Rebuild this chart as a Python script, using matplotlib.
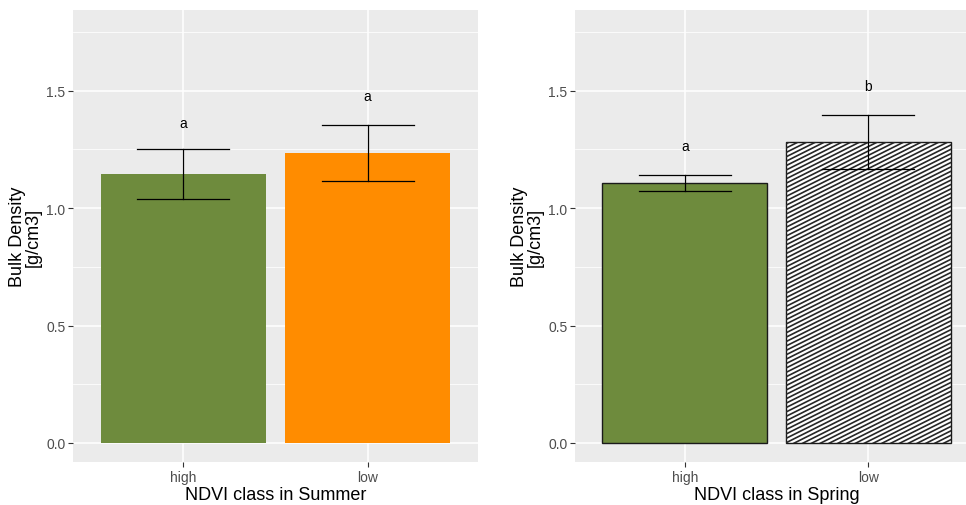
import numpy as np
import matplotlib
matplotlib.use("Agg")
import matplotlib.pyplot as plt
from matplotlib.lines import Line2D

plt.rcParams['font.family'] = ['Liberation Sans', 'DejaVu Sans']

categories = ["high", "low"]

summer_mean = [1.145, 1.234]
summer_sd = [0.105, 0.121]
summer_letters = ["a", "a"]
summer_letter_y = [1.36, 1.477]

spring_mean = [1.106, 1.281]
spring_sd = [0.034, 0.116]
spring_letters = ["a", "b"]
spring_letter_y = [1.264, 1.519]

y_ticks = [0.0, 0.5, 1.0, 1.5]
y_minor = [0.25, 0.75, 1.25, 1.75]

GREEN = "#6E8B3D"
ORANGE = "#FF8C00"
BG = "#EBEBEB"

fig = plt.figure(figsize=(9.66, 5.06), dpi=100)
ax1 = fig.add_axes([73/966, 43/506, 405/966, 452/506])
ax2 = fig.add_axes([575/966, 43/506, 403/966, 452/506])


def style(ax, xlabel):
    ax.set_facecolor(BG)
    for s in ax.spines.values():
        s.set_visible(False)
    ax.set_xlim(0.4, 2.6)
    ax.set_ylim(-0.081, 1.843)
    ax.set_xticks([1, 2])
    ax.set_xticklabels(categories)
    ax.set_yticks(y_ticks)
    ax.set_yticklabels([f"{v:.1f}" for v in y_ticks])
    ax.set_yticks(y_minor, minor=True)
    ax.tick_params(axis='y', which='minor', length=0)
    ax.tick_params(axis='both', which='major', length=3.5, width=0.8,
                   color="#333333", labelcolor="#4D4D4D", labelsize=10, pad=2)
    ax.grid(True, which='major', color='white', lw=1.1)
    ax.grid(True, which='minor', axis='y', color='white', lw=0.55)
    ax.set_axisbelow(True)
    ax.set_xlabel(xlabel, fontsize=13, color='black', labelpad=2)
    ax.set_ylabel("Bulk Density\n[g/cm3]", fontsize=13, color='black',
                  labelpad=3, linespacing=0.95)


def errbars(ax, x, mean, sd):
    for xi, m, s in zip(x, mean, sd):
        ax.plot([xi, xi], [m - s, m + s], color='black', lw=0.9, zorder=5)
        ax.plot([xi - 0.25, xi + 0.25], [m + s, m + s], color='black', lw=0.9, zorder=5)
        ax.plot([xi - 0.25, xi + 0.25], [m - s, m - s], color='black', lw=0.9, zorder=5)


x = np.array([1, 2])

# Summer panel
style(ax1, "NDVI class in Summer")
ax1.bar(x, summer_mean, width=0.9, color=[GREEN, ORANGE], zorder=2)
errbars(ax1, x, summer_mean, summer_sd)
for xi, ly, lt in zip(x, summer_letter_y, summer_letters):
    ax1.text(xi, ly, lt, ha='center', va='center', fontsize=10, color='black')

# Spring panel
style(ax2, "NDVI class in Spring")
bars = ax2.bar(x, spring_mean, width=0.9, color=[GREEN, 'white'],
               edgecolor='#1a1a1a', linewidth=1.0, zorder=2)
# hatch for "low" bar: shallow diagonal lines clipped to the bar
b = bars[1]
x0, w = b.get_x(), b.get_width()
h = b.get_height()
slope = 0.5 * (183 / 235)   # pixel slope 0.5 converted to data units
dy = 4.4 / 235              # vertical spacing in data units
ks = np.arange(-int((slope * w) / dy) - 2, int(h / dy) + 2)
for k in ks:
    y0 = k * dy
    ln = Line2D([x0, x0 + w], [y0, y0 + slope * w], color='#262626', lw=1.2, zorder=3)
    ax2.add_line(ln)
    ln.set_clip_path(b)
errbars(ax2, x, spring_mean, spring_sd)
for xi, ly, lt in zip(x, spring_letter_y, spring_letters):
    ax2.text(xi, ly, lt, ha='center', va='center', fontsize=10, color='black')

fig.savefig("out.png", dpi=100)
